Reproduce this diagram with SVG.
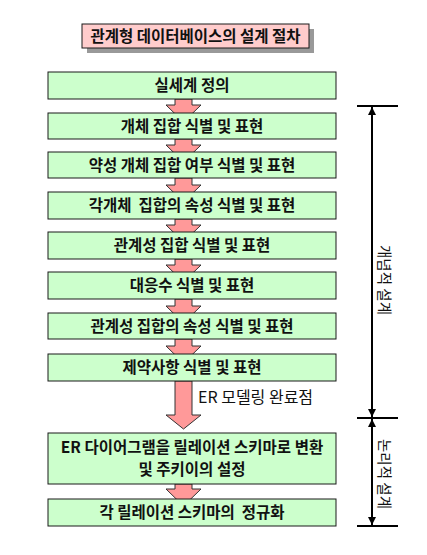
<svg xmlns="http://www.w3.org/2000/svg" width="427" height="555" viewBox="0 0 427 555">
<defs>
<style>
.box{fill:#CCFFCC;stroke:#1a1a1a;stroke-width:1}
.t{font-family:"Noto Sans CJK KR","Noto Sans",sans-serif;font-size:15.5px;font-weight:bold;fill:#111;text-anchor:middle}
.arr{fill:#FF9999;stroke:#333;stroke-width:1}
.dim{stroke:#000;stroke-width:2;fill:none}
.tick{stroke:#000;stroke-width:2}
.v{font-family:"Noto Sans CJK KR","Noto Sans",sans-serif;font-size:14.5px;fill:#111;text-anchor:middle}
</style>
<marker id="ah" viewBox="0 0 10 10" refX="10" refY="5" markerWidth="5" markerHeight="4" orient="auto-start-reverse" markerUnits="strokeWidth">
<path d="M0,0 L10,5 L0,10 z" fill="#000"/>
</marker>
</defs>
<rect width="427" height="555" fill="#fff"/>
<g id="title">
<rect x="87" y="29" width="227" height="24" fill="#999"/>
<rect x="82" y="24" width="227" height="24" fill="#FFCCCC" stroke="#1a1a1a"/>
<text class="t" x="195.5" y="41.5">관계형 데이터베이스의 설계 절차</text>
</g>
<g id="connectors">
<polygon class="arr" points="175,99 192,99 192,105 201,105 183.5,122 166,105 175,105"/>
<polygon class="arr" points="175,139 192,139 192,145 201,145 183.5,162 166,145 175,145"/>
<polygon class="arr" points="175,178 192,178 192,185 201,185 183.5,202 166,185 175,185"/>
<polygon class="arr" points="175,219 192,219 192,225 201,225 183.5,242 166,225 175,225"/>
<polygon class="arr" points="175,259 192,259 192,265 201,265 183.5,282 166,265 175,265"/>
<polygon class="arr" points="175,299 192,299 192,306 201,306 183.5,323 166,306 175,306"/>
<polygon class="arr" points="175,339 192,339 192,346 201,346 183.5,363 166,346 175,346"/>
<polygon class="arr" points="175,381 192,381 192,415 201,415 183.5,429 166,415 175,415"/>
<polygon class="arr" points="175,484 192,484 192,489 201,489 183.5,506 166,489 175,489"/>
</g>
<g id="n1"><rect class="box" x="48" y="72" width="288" height="27"/><text class="t" x="192" y="91">실세계 정의</text></g>
<g id="n2"><rect class="box" x="48" y="113" width="288" height="26"/><text class="t" x="192" y="131.5">개체 집합 식별 및 표현</text></g>
<g id="n3"><rect class="box" x="48" y="152" width="288" height="26"/><text class="t" x="192" y="170.5">약성 개체 집합 여부 식별 및 표현</text></g>
<g id="n4"><rect class="box" x="48" y="192" width="288" height="27"/><text class="t" x="192" y="211" xml:space="preserve">각개체  집합의 속성 식별 및 표현</text></g>
<g id="n5"><rect class="box" x="48" y="232" width="288" height="27"/><text class="t" x="192" y="251">관계성 집합 식별 및 표현</text></g>
<g id="n6"><rect class="box" x="48" y="272" width="288" height="27"/><text class="t" x="192" y="291">대응수 식별 및 표현</text></g>
<g id="n7"><rect class="box" x="48" y="313" width="288" height="26"/><text class="t" x="192" y="331.5">관계성 집합의 속성 식별 및 표현</text></g>
<g id="n8"><rect class="box" x="48" y="354" width="288" height="27"/><text class="t" x="192" y="373">제약사항 식별 및 표현</text></g>
<g id="n9"><rect class="box" x="48" y="433" width="288" height="51"/><text class="t" x="192" y="453">ER 다이어그램을 릴레이션 스키마로 변환</text><text class="t" x="192" y="475">및 주키이의 설정</text></g>
<g id="n10"><rect class="box" x="48" y="499" width="288" height="27"/><text class="t" x="192" y="518" xml:space="preserve">각 릴레이션 스키마의  정규화</text></g>
<g id="er-label"><text class="t" x="198" y="402.5" style="text-anchor:start;font-weight:normal;font-size:16px">ER 모델링 완료점</text></g>
<g id="dimensions">
<line class="tick" x1="357" y1="106" x2="398" y2="106"/>
<line class="tick" x1="357" y1="418" x2="398" y2="418"/>
<line class="tick" x1="357" y1="526" x2="398" y2="526"/>
<line class="dim" x1="372" y1="107" x2="372" y2="417" marker-start="url(#ah)" marker-end="url(#ah)"/>
<line class="dim" x1="372" y1="419" x2="372" y2="525" marker-start="url(#ah)" marker-end="url(#ah)"/>
<text class="v" transform="translate(378.5,280) rotate(90)">개념적 설계</text>
<text class="v" transform="translate(378.5,474) rotate(90)">논리적 설계</text>
</g>
</svg>
